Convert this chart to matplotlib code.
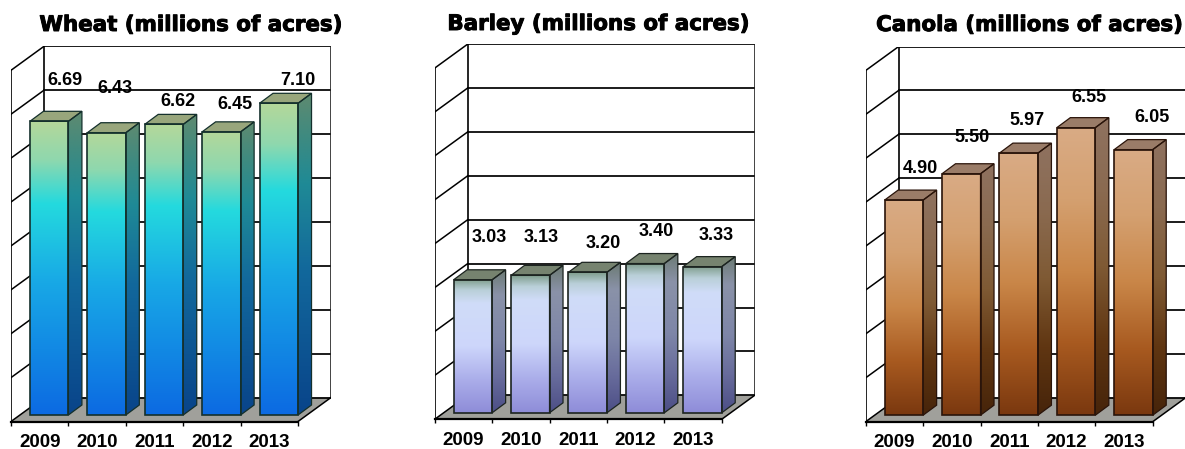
import numpy as np
import matplotlib
matplotlib.use('Agg')
import matplotlib.pyplot as plt
import matplotlib.patheffects as pe
from matplotlib.colors import LinearSegmentedColormap
from matplotlib.patches import Polygon

years = ['2009', '2010', '2011', '2012', '2013']
wheat = [6.69, 6.43, 6.62, 6.45, 7.10]
barley = [3.03, 3.13, 3.20, 3.40, 3.33]
canola = [4.90, 5.50, 5.97, 6.55, 6.05]

W, H = 1185, 449
CAT = 57.4   # px per category
UNIT = 43.9  # px per acre unit
DEPTH_X = 33 / CAT
DEPTH_Y = 24 / UNIT
BAR_W = 38.5 / CAT
SHIFT_X = 0.165
SHIFT_Y = 0.148
BAR_DX = 13.5 / CAT
BAR_DY = 10 / UNIT

wheat_front = [(0, '#b4d79a'), (0.13, '#8fd8ae'), (0.28, '#24dade'), (0.55, '#18a8e6'), (1, '#0c6ae2')]
wheat_side = [(0, '#5f8a70'), (0.13, '#3f8a80'), (0.28, '#1f8a96'), (0.55, '#12689c'), (1, '#09448a')]
barley_front = [(0, '#7f9d8c'), (0.08, '#b9cfd8'), (0.18, '#d0dcf8'), (0.5, '#cdd6fb'), (0.75, '#abaeea'), (1, '#8e8cd8')]
barley_side = [(0, '#6b7a72'), (0.18, '#8a92a8'), (0.5, '#7e86a8'), (0.75, '#686c9c'), (1, '#4c4e86')]
canola_front = [(0, '#d9ab85'), (0.25, '#d4a070'), (0.5, '#c98648'), (0.75, '#a85a20'), (1, '#7a380f')]
canola_side = [(0, '#8f7260'), (0.25, '#8a6a50'), (0.5, '#7f5a34'), (0.75, '#603612'), (1, '#46240a')]

panels = [
    dict(title='Wheat (millions of acres)', values=wheat, x0=11, y0=421.5, front=wheat_front, side=wheat_side,
         top='#98a67c', edge='#14302c', title_x=190.5, title_y=25,
         lab_dx=[16, 8.4, 14, 14, 19], lab_dy=[41, 44, 23, 27, 23], pad=8.8),
    dict(title='Barley (millions of acres)', values=barley, x0=434.7, y0=419.3, front=barley_front, side=barley_side,
         top='#76836f', edge='#1c2420', title_x=598, title_y=24,
         lab_dx=[16, 11, 15.5, 11, 13.6], lab_dy=[42, 38, 29, 32, 31], pad=9),
    dict(title='Canola (millions of acres)', values=canola, x0=865.7, y0=421.7, front=canola_front, side=canola_side,
         top='#9a7c68', edge='#2a140a', title_x=1029, title_y=25,
         lab_dx=[17, 11, 8.5, 13, 18.6], lab_dy=[32, 36, 33, 30, 32], pad=8.6),
]

plt.rcParams['font.family'] = ['Liberation Sans', 'DejaVu Sans']


def gradient_poly(ax, pts, colors, y_low, y_high, zorder):
    cmap = LinearSegmentedColormap.from_list('g', colors)
    xs = [p[0] for p in pts]
    grad = np.linspace(0, 1, 256).reshape(-1, 1)
    im = ax.imshow(grad, cmap=cmap, aspect='auto', origin='upper', interpolation='bilinear',
                   extent=(min(xs), max(xs), y_low, y_high), zorder=zorder)
    clip = Polygon(pts, closed=True, transform=ax.transData)
    im.set_clip_path(clip)


fig = plt.figure(figsize=(W / 100, H / 100), dpi=100)

for p in panels:
    ax = fig.add_axes([p['x0'] / W, (H - p['y0']) / H,
                       (5 * CAT + 33) / W, (8 * UNIT + 24) / H])

    # floor
    ax.add_patch(Polygon([(0, 0), (5, 0), (5 + DEPTH_X, DEPTH_Y), (DEPTH_X, DEPTH_Y)],
                         closed=True, fc='#a0a09b', ec='none', zorder=1))
    # walls and grid
    for level in range(0, 9):
        ax.plot([DEPTH_X, 5 + DEPTH_X], [level + DEPTH_Y] * 2, color='black', lw=1.25, zorder=2)
        ax.plot([0, DEPTH_X], [level, level + DEPTH_Y], color='black', lw=1.1, zorder=2)
    ax.plot([0, 0], [0, 8], color='black', lw=1.2, zorder=2)
    ax.plot([DEPTH_X, DEPTH_X], [DEPTH_Y, 8 + DEPTH_Y], color='black', lw=1.2, zorder=2)
    ax.plot([5 + DEPTH_X] * 2, [DEPTH_Y, 8 + DEPTH_Y], color='#222222', lw=1.2, zorder=2)
    ax.plot([5, 5 + DEPTH_X], [0, DEPTH_Y], color='black', lw=1.1, zorder=2)

    # bars
    for i, v in enumerate(p['values']):
        x1 = i + (1 - BAR_W) / 2 + SHIFT_X
        x2 = x1 + BAR_W
        y1 = SHIFT_Y
        y2 = SHIFT_Y + v
        z = 3 + i
        front = [(x1, y1), (x2, y1), (x2, y2), (x1, y2)]
        side = [(x2, y1), (x2 + BAR_DX, y1 + BAR_DY), (x2 + BAR_DX, y2 + BAR_DY), (x2, y2)]
        top = [(x1, y2), (x2, y2), (x2 + BAR_DX, y2 + BAR_DY), (x1 + BAR_DX, y2 + BAR_DY)]
        gradient_poly(ax, side, p['side'], y1, y2 + BAR_DY, z)
        gradient_poly(ax, front, p['front'], y1, y2, z)
        ax.add_patch(Polygon(top, closed=True, fc=p['top'], ec=p['edge'], lw=0.9, zorder=z))
        ax.add_patch(Polygon(side, closed=True, fc='none', ec=p['edge'], lw=0.9, zorder=z))
        ax.add_patch(Polygon(front, closed=True, fc='none', ec=p['edge'], lw=1.2, zorder=z))
        ax.annotate(f'{v:.2f}', xy=((x1 + x2) / 2, y2), xytext=(p['lab_dx'][i], p['lab_dy'][i]),
                    textcoords='offset pixels', ha='center', va='center', fontsize=13,
                    fontweight='bold', color='black', zorder=20, annotation_clip=False)

    ax.set_xlim(0, 5 + DEPTH_X)
    ax.set_ylim(0, 8 + DEPTH_Y)
    ax.patch.set_visible(False)
    for side_name in ['top', 'left', 'right']:
        ax.spines[side_name].set_visible(False)
    ax.spines['bottom'].set_bounds(0, 5)
    ax.spines['bottom'].set_linewidth(1.6)
    ax.spines['bottom'].set_color('black')
    ax.set_yticks([])
    ax.set_xticks(range(6))
    ax.set_xticklabels([])
    ax.set_xticks(np.arange(5) + 0.5, minor=True)
    ax.set_xticklabels(years, minor=True, fontsize=13.5, fontweight='bold', color='black')
    ax.tick_params(axis='x', which='major', length=3, width=1.0, color='black')
    ax.tick_params(axis='x', which='minor', length=0, pad=p['pad'])

    fig.text(p['title_x'] / W, 1 - p['title_y'] / H, p['title'], ha='center', va='center',
             fontsize=15.4, fontweight='bold', family='DejaVu Sans', color='black',
             path_effects=[pe.withStroke(linewidth=0.7, foreground='black')])

fig.savefig('out.png', dpi=100)
